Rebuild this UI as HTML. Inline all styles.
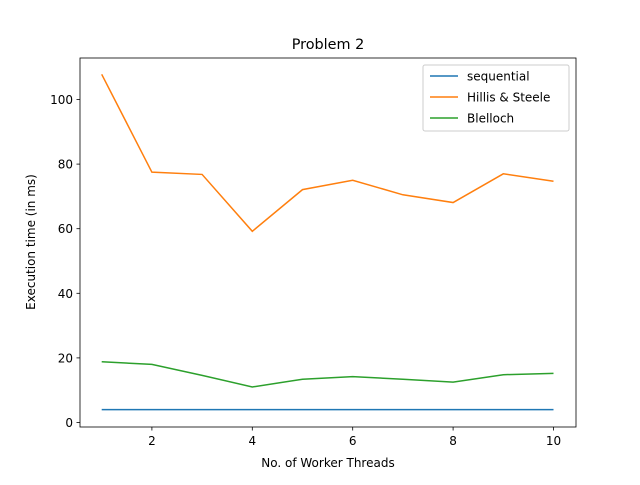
<!DOCTYPE html>
<html><head><meta charset="utf-8"><style>body{margin:0;background:#fff}text{font-family:"DejaVu Sans","Liberation Sans",sans-serif}</style></head>
<body>
<svg id="c" width="640" height="480" xmlns="http://www.w3.org/2000/svg">
<rect width="640" height="480" fill="#fff"/>
<text x="328" y="49" font-size="14.4" text-anchor="middle">Problem 2</text>
<g id="plot"></g>
<rect x="80" y="58" width="496" height="369" fill="none" stroke="#000" stroke-width="0.8"/>
<text x="328" y="467" font-size="12" text-anchor="middle">No. of Worker Threads</text>
<text transform="translate(35,242) rotate(-90)" font-size="12" text-anchor="middle">Execution time (in ms)</text>
<g>
<rect x="423" y="65" width="146" height="66" rx="2" fill="#fff" stroke="#ccc" stroke-width="1"/>
<line x1="430" y1="76" x2="458" y2="76" stroke="#1f77b4" stroke-width="1.5"/>
<text x="467" y="80.5" font-size="12">sequential</text>
<line x1="430" y1="97" x2="458" y2="97" stroke="#ff7f0e" stroke-width="1.5"/>
<text x="467" y="101.5" font-size="12">Hillis &amp; Steele</text>
<line x1="430" y1="118" x2="458" y2="118" stroke="#2ca02c" stroke-width="1.5"/>
<text x="467" y="122.5" font-size="12">Blelloch</text>
</g>
</svg>
<script>
const threads=[1,2,3,4,5,6,7,8,9,10];
const sequential=[4,4,4,4,4,4,4,4,4,4];
const hillis=[107.8,77.5,76.8,59.2,72.1,75,70.5,68.1,77,74.7];
const blelloch=[18.8,18,14.6,11,13.4,14.2,13.4,12.5,14.8,15.2];
const xTicks=[2,4,6,8,10];
const yTicks=[0,20,40,60,80,100];
const NS="http://www.w3.org/2000/svg";
const xs=v=>101.7+(v-1)*50.2;
const ys=v=>422.5-v*3.23;
const g=document.getElementById('plot');
function mk(t,a){const e=document.createElementNS(NS,t);for(const k in a)e.setAttribute(k,a[k]);g.appendChild(e);return e;}
xTicks.forEach(v=>{
const l=mk('line',{x1:xs(v),x2:xs(v),y1:427,y2:430.5,stroke:'#000','stroke-width':0.8});


const t=mk('text',{x:xs(v),y:445,'font-size':12,'text-anchor':'middle'});t.textContent=v;


});
yTicks.forEach(v=>{
const l=mk('line',{x1:76.5,x2:80,y1:ys(v),y2:ys(v),stroke:'#000','stroke-width':0.8});


const t=mk('text',{x:73,y:ys(v)+4.5,'font-size':12,'text-anchor':'end'});t.textContent=v;


});
[[sequential,'#1f77b4','line-sequential'],[hillis,'#ff7f0e','line-hillis-steele'],[blelloch,'#2ca02c','line-blelloch']].forEach(([d,c,n])=>{
const p=mk('polyline',{points:d.map((v,i)=>xs(threads[i])+','+ys(v)).join(' '),fill:'none',stroke:c,'stroke-width':1.5});


});
</script>
</body></html>
